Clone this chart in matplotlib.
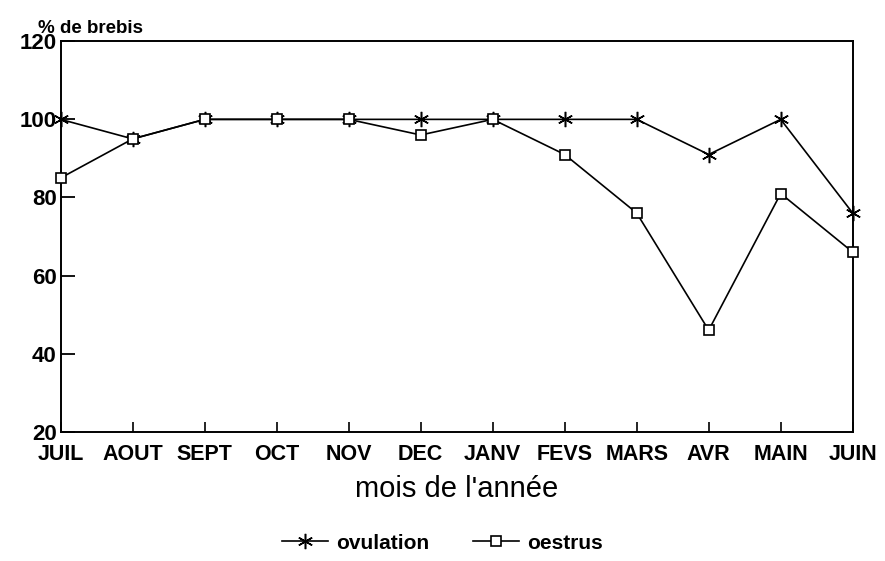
import matplotlib
matplotlib.use("Agg")
import matplotlib.pyplot as plt

months = ["JUIL", "AOUT", "SEPT", "OCT", "NOV", "DEC",
          "JANV", "FEVS", "MARS", "AVR", "MAIN", "JUIN"]
ovulation = [100, 95, 100, 100, 100, 100, 100, 100, 100, 91, 100, 76]
oestrus = [85, 95, 100, 100, 100, 96, 100, 91, 76, 46, 81, 66]
yticks = [20, 40, 60, 80, 100, 120]

plt.rcParams["font.family"] = ["Liberation Sans", "DejaVu Sans"]

fig = plt.figure(figsize=(8.85, 5.61), dpi=100)
ax = fig.add_axes([0.0686, 0.2305, 0.8949, 0.6959])

x = list(range(len(months)))
ax.plot(x, ovulation, color="black", lw=1.2, marker=(6, 2, 0), ms=11,
        mew=1.1, clip_on=False, label="ovulation", zorder=3)
ax.plot(x, oestrus, color="black", lw=1.2, marker="s", ms=7, mfc="white",
        mec="black", mew=1.2, clip_on=False, label="oestrus", zorder=3)

ax.set_xlim(0, len(months) - 1)
ax.set_ylim(20, 120)
ax.set_yticks(yticks)
ax.set_yticklabels([str(v) for v in yticks], fontsize=16, fontweight="bold")
ax.set_xticks(x)
ax.set_xticklabels(months, fontsize=15.5, fontweight="bold")
ax.tick_params(axis="y", direction="in", length=10, width=1.3, pad=3)
ax.tick_params(axis="x", direction="in", length=7, width=1.2, pad=9)
for sp in ax.spines.values():
    sp.set_linewidth(1.4)

fig.text(0.043, 0.95, "% de brebis", fontsize=13.5, fontweight="bold",
         ha="left", va="center")
ax.set_xlabel("mois de l'année", fontsize=21, labelpad=7)

fig.legend(loc="center", bbox_to_anchor=(0.5, 0.032), ncol=2, frameon=False,
           handlelength=2.2, handletextpad=0.4, columnspacing=2.1,
           prop={"weight": "bold", "size": 15})

fig.savefig("out.png", dpi=100)
